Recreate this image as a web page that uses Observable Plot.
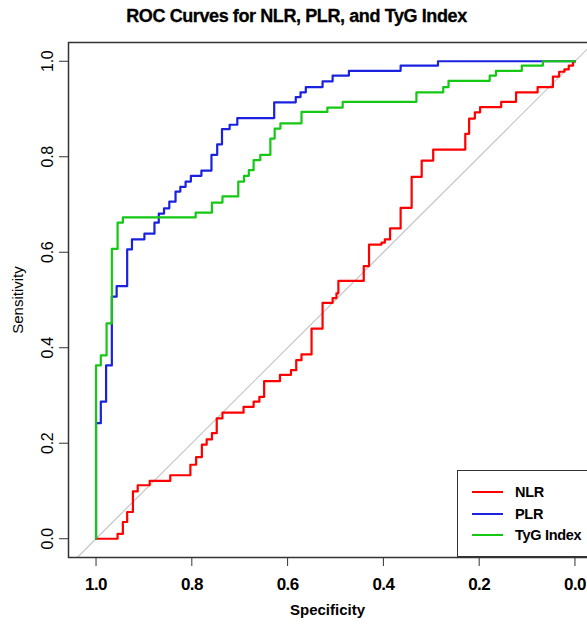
<!DOCTYPE html>
<html>
<head>
<meta charset="utf-8">
<script src="https://cdn.jsdelivr.net/npm/d3@7"></script>
<script src="https://cdn.jsdelivr.net/npm/@observablehq/plot@0.6"></script>
<style>
  html, body { margin: 0; padding: 0; background: #fff; overflow: hidden; }
  #wrap { position: relative; width: 587px; height: 625px; overflow: hidden; font-family: "Liberation Sans", Arial, sans-serif; }
  #title { width: 593px; height: 30px; line-height: 33px; text-align: center; font-weight: bold; font-size: 18px; letter-spacing: -0.4px; color: #000; -webkit-text-stroke: 0.3px #000; }
  #chart svg { max-width: none !important; }
  #legend { position: absolute; left: 457px; top: 470px; width: 150px; height: 85px; border: 1.5px solid #333; background: #fff; }
  .li { position: absolute; left: 0; height: 20px; }
  .sw { position: absolute; left: 14px; top: 9px; width: 31px; height: 2px; }
  .lt { position: absolute; left: 57px; top: 0; line-height: 20px; font-size: 14.5px; font-weight: bold; color: #000; white-space: nowrap; letter-spacing: -0.3px; }
  g[aria-label="x-axis tick label"] text { font-size: 17px; font-weight: bold; letter-spacing: -0.6px; }
  g[aria-label="y-axis tick label"] text { font-size: 16px; letter-spacing: -0.3px; }
</style>
</head>
<body>
<div id="wrap">
  <div id="title">ROC Curves for NLR, PLR, and TyG Index</div>
  <div id="chart"></div>
  <div id="legend"></div>
</div>
<script>
const specTicks = [1.0, 0.8, 0.6, 0.4, 0.2, 0.0];
const sensTicks = [0.0, 0.2, 0.4, 0.6, 0.8, 1.0];
const seriesNames = ["NLR", "PLR", "TyG Index"];
const seriesColors = ["#ff0000", "#1a22e0", "#14c814"];

const nlrSpec = [1.000,0.955,0.944,0.935,0.923,0.913,0.888,0.845,0.803,0.791,0.779,0.769,0.758,0.748,0.736,0.692,0.671,0.659,0.649,0.616,0.593,0.582,0.571,0.550,0.527,0.506,0.498,0.494,0.441,0.430,0.404,0.397,0.386,0.364,0.341,0.320,0.296,0.229,0.221,0.209,0.198,0.154,0.123,0.078,0.046,0.033,0.022,0.013,0.004,0.000];
const nlrSens = [0.000,0.010,0.035,0.056,0.099,0.112,0.121,0.133,0.155,0.171,0.197,0.208,0.221,0.252,0.264,0.276,0.287,0.297,0.330,0.343,0.353,0.374,0.386,0.440,0.494,0.504,0.514,0.540,0.571,0.616,0.620,0.627,0.650,0.693,0.758,0.792,0.815,0.848,0.880,0.893,0.904,0.915,0.935,0.946,0.968,0.978,0.983,0.991,0.999,1.000];

const plrSpec = [1.000,1.000,0.990,0.979,0.967,0.957,0.935,0.925,0.899,0.878,0.869,0.858,0.847,0.834,0.824,0.813,0.802,0.780,0.759,0.747,0.737,0.721,0.705,0.628,0.583,0.573,0.562,0.527,0.506,0.472,0.364,0.286,0.000];
const plrSens = [0.000,0.242,0.287,0.363,0.507,0.529,0.606,0.627,0.639,0.662,0.681,0.692,0.706,0.727,0.737,0.748,0.760,0.771,0.804,0.826,0.858,0.867,0.881,0.914,0.925,0.935,0.946,0.958,0.970,0.980,0.991,1.000,1.000];

const tygSpec = [1.000,1.000,0.990,0.978,0.967,0.955,0.944,0.792,0.758,0.736,0.703,0.691,0.681,0.671,0.657,0.636,0.627,0.615,0.571,0.517,0.485,0.331,0.275,0.264,0.178,0.165,0.111,0.067,0.000];
const tygSens = [0.000,0.363,0.384,0.451,0.607,0.662,0.673,0.683,0.704,0.717,0.748,0.760,0.772,0.793,0.804,0.838,0.859,0.870,0.894,0.903,0.915,0.935,0.946,0.959,0.970,0.980,0.991,1.000,1.000];

// chance line endpoints (specificity), sensitivity = 1 - specificity
const chanceSpec = [1.2, -0.2];

const toRows = (spec, sens) => spec.map((s, i) => ({spec: s, sens: sens[i]}));
const curves = [toRows(nlrSpec, nlrSens), toRows(plrSpec, plrSens), toRows(tygSpec, tygSens)];
const chance = chanceSpec.map(s => ({spec: s, sens: 1 - s}));

const fmt = d3.format(".1f");

const chart = Plot.plot({
  width: 602,
  height: 595,
  marginLeft: 68,
  marginRight: 0,
  marginTop: 12,
  marginBottom: 68,
  style: {fontFamily: '"Liberation Sans", Arial, sans-serif', color: "#000", background: "#fff", maxWidth: "none"},
  x: {domain: [1.0575, -0.0575]},
  y: {domain: [-0.0393, 1.0393]},
  marks: [
    Plot.line(chance, {x: "spec", y: "sens", stroke: "#c4c4c4", strokeWidth: 1.2, clip: true}),
    ...curves.map((rows, i) => Plot.line(rows, {x: "spec", y: "sens", stroke: seriesColors[i], strokeWidth: 2.2, curve: "step-after"})),
    Plot.frame({stroke: "#333", strokeWidth: 1.5}),
    Plot.axisX({ticks: specTicks, tickFormat: fmt, tickSize: 9, tickPadding: 11, label: null, stroke: "#333"}),
    Plot.axisY({ticks: sensTicks, tickFormat: fmt, tickSize: 9, tickPadding: 7, tickRotate: -90, label: null, stroke: "#333"}),
    Plot.text(["Specificity"], {frameAnchor: "bottom", dx: -8, dy: 57, fontSize: 15, fontWeight: "bold", fill: "#000"}),
    Plot.text(["Sensitivity"], {frameAnchor: "left", textAnchor: "middle", dx: -50, rotate: -90, fontSize: 15, fill: "#000"})
  ]
});
chart.style.maxWidth = "none";
document.getElementById("chart").appendChild(chart);

const legend = document.getElementById("legend");
seriesNames.forEach((name, i) => {
  const item = document.createElement("div");
  item.className = "li";
  item.style.top = (11 + i * 21.5) + "px";
  const sw = document.createElement("div");
  sw.className = "sw";
  sw.style.background = seriesColors[i];
  const t = document.createElement("div");
  t.className = "lt";
  t.textContent = name;
  item.appendChild(sw);
  item.appendChild(t);
  legend.appendChild(item);
});
</script>
</body>
</html>
